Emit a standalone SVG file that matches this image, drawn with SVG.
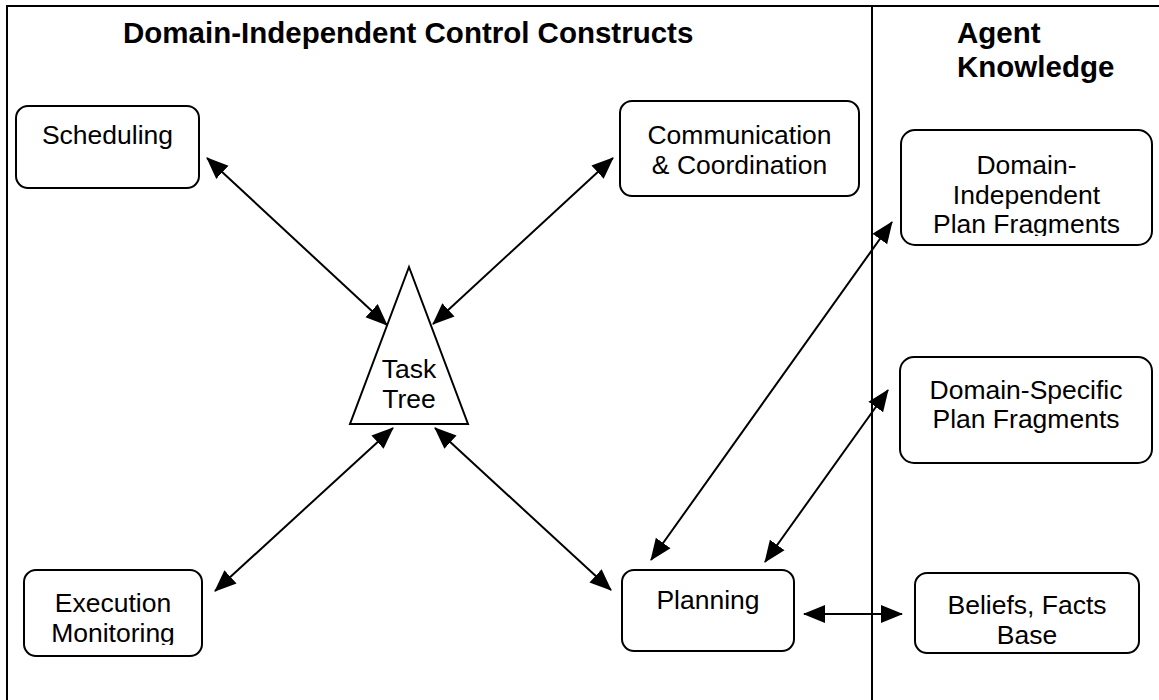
<svg xmlns="http://www.w3.org/2000/svg" width="1159" height="700" viewBox="0 0 1159 700">
  <style>
    .frame { fill: none; stroke: #000; stroke-width: 2; }
    .box { fill: #fff; stroke: #000; stroke-width: 2; }
    .label { font-family: "Liberation Sans", Arial, sans-serif; font-size: 26.5px; fill: #000; text-anchor: middle; }
    .heading { font-family: "Liberation Sans", Arial, sans-serif; font-size: 29.5px; font-weight: bold; fill: #000; }
    .link { fill: none; stroke: #000; stroke-width: 2; marker-start: url(#head); marker-end: url(#head); }
  </style>
  <defs>
    <marker id="head" markerUnits="userSpaceOnUse" markerWidth="22" markerHeight="20" viewBox="0 0 22 20" refX="21" refY="10" orient="auto-start-reverse">
      <path d="M0,1 L22,10 L0,19 Z" fill="#000"/>
    </marker>
    <clipPath id="clipDIPF"><rect x="900" y="130" width="252" height="106"/></clipPath>
    <clipPath id="clipExec"><rect x="24" y="570" width="178" height="75"/></clipPath>
    <clipPath id="clipBeliefs"><rect x="915" y="573" width="224" height="72"/></clipPath>
  </defs>

  <rect width="1159" height="700" fill="#fff"/>

  <!-- outer frame and section divider -->
  <g id="frame">
    <path class="frame" d="M7,700 V6 H1159"/>
    <line class="frame" x1="872" y1="6" x2="872" y2="700"/>
    <text class="heading" x="123" y="43">Domain-Independent Control Constructs</text>
    <text class="heading" x="957" y="43">Agent</text>
    <text class="heading" x="957" y="77">Knowledge</text>
  </g>

  <!-- connectors -->
  <g id="connectors">
    <line class="link" x1="207" y1="158" x2="387" y2="325"/>
    <line class="link" x1="613" y1="158" x2="433" y2="324"/>
    <line class="link" x1="215" y1="591" x2="393" y2="428"/>
    <line class="link" x1="611" y1="590" x2="435" y2="428"/>
    <line class="link" x1="892" y1="222" x2="651" y2="560"/>
    <line class="link" x1="888" y1="390" x2="765" y2="562"/>
    <line class="link" x1="804" y1="614" x2="902" y2="614"/>
  </g>

  <g id="scheduling">
    <rect class="box" x="16" y="106" width="183" height="82" rx="12"/>
    <text class="label" x="107.5" y="144">Scheduling</text>
  </g>

  <g id="communication">
    <rect class="box" x="620" y="101" width="239" height="95" rx="12"/>
    <text class="label" x="739.5" y="144">Communication</text>
    <text class="label" x="739.5" y="174">&amp; Coordination</text>
  </g>

  <g id="task-tree">
    <polygon class="box" points="409,267 468,424 350,424"/>
    <text class="label" x="409" y="378">Task</text>
    <text class="label" x="409" y="408">Tree</text>
  </g>

  <g id="execution-monitoring">
    <rect class="box" x="24" y="570" width="178" height="86" rx="12"/>
    <g clip-path="url(#clipExec)">
      <text class="label" x="113" y="612">Execution</text>
      <text class="label" x="113" y="642">Monitoring</text>
    </g>
  </g>

  <g id="planning">
    <rect class="box" x="622" y="570" width="172" height="81" rx="12"/>
    <text class="label" x="708" y="609">Planning</text>
  </g>

  <g id="domain-independent-fragments">
    <rect class="box" x="901" y="130" width="251" height="115" rx="14"/>
    <g clip-path="url(#clipDIPF)">
      <text class="label" x="1026.5" y="174">Domain-</text>
      <text class="label" x="1026.5" y="204">Independent</text>
      <text class="label" x="1026.5" y="232.5">Plan Fragments</text>
    </g>
  </g>

  <g id="domain-specific-fragments">
    <rect class="box" x="900" y="357" width="252" height="106" rx="14"/>
    <text class="label" x="1026" y="399">Domain-Specific</text>
    <text class="label" x="1026" y="428">Plan Fragments</text>
  </g>

  <g id="beliefs-facts">
    <rect class="box" x="915" y="573" width="224" height="80" rx="12"/>
    <g clip-path="url(#clipBeliefs)">
      <text class="label" x="1027" y="614">Beliefs, Facts</text>
      <text class="label" x="1027" y="644">Base</text>
    </g>
  </g>
</svg>
